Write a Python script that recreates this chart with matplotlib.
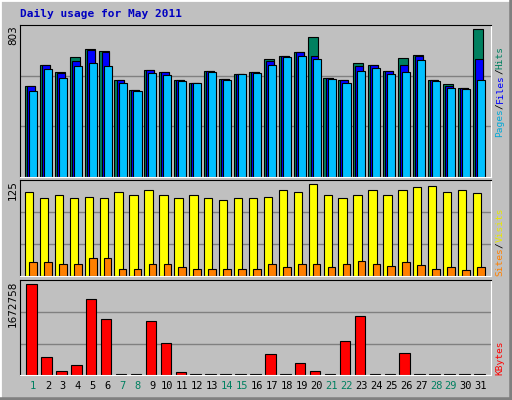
import matplotlib
matplotlib.use("Agg")
import matplotlib.pyplot as plt
import numpy as np

days = list(range(1, 32))
weekend = [1, 7, 8, 14, 15, 21, 22, 28, 29]

hits = [494, 609, 570, 652, 696, 685, 527, 472, 581, 570, 527, 510, 576, 532, 559, 570,
        641, 658, 679, 761, 538, 527, 619, 609, 576, 647, 663, 527, 505, 483, 803]
files = [494, 609, 565, 630, 690, 679, 527, 472, 581, 570, 527, 510, 576, 532, 559, 570,
         630, 658, 679, 658, 538, 527, 603, 609, 576, 609, 658, 527, 494, 483, 641]
pages = [467, 587, 538, 603, 619, 603, 510, 467, 565, 554, 521, 510, 570, 527, 559, 565,
         609, 652, 658, 641, 532, 510, 576, 592, 559, 570, 636, 521, 483, 478, 527]
sites = [114, 106, 111, 107, 108, 107, 115, 110, 118, 110, 107, 110, 107, 104, 107, 106,
         108, 118, 114, 125, 110, 106, 110, 118, 111, 117, 122, 123, 115, 117, 113]
visits = [19, 19, 16, 16, 25, 24, 10, 10, 16, 16, 12, 9, 10, 9, 9, 10,
          17, 12, 16, 16, 12, 17, 21, 16, 13, 19, 15, 9, 12, 8, 12]
kbytes = [1672758, 331000, 73500, 184000, 1397000, 1029000, 25000, 25000, 993000, 588000,
          55000, 25000, 25000, 25000, 25000, 25000, 386000, 25000, 221000, 73500,
          25000, 625000, 1085000, 25000, 25000, 404000, 25000, 25000, 25000, 25000, 25000]

W, H = 512, 400
BG = "#C0C0C0"
fig = plt.figure(figsize=(W / 100, H / 100), dpi=100, facecolor=BG)

def fx(x):
    return x / W

def fy(y):
    return 1 - y / H

def panel(top, bottom, ymax):
    ax = fig.add_axes([fx(20), fy(bottom), fx(491 - 20), (bottom - top) / H])
    ax.set_facecolor(BG)
    ax.set_xlim(0.13, 31.68)
    ax.set_ylim(0, ymax)
    for y in (ymax / 3, 2 * ymax / 3):
        ax.axhline(y, color="#808080", lw=1, zorder=0)
    ax.set_xticks([])
    ax.set_yticks([])
    for s in ("left", "top"):
        ax.spines[s].set_color("black")
    for s in ("right", "bottom"):
        ax.spines[s].set_color("white")
    return ax

d = np.array(days)
mono = "DejaVu Sans Mono"

# top: hits / files / pages
ax1 = panel(25, 176.7, 826)
ax1.bar(d - 0.21, hits, width=0.67, color="#008060", edgecolor="black", lw=0.8)
ax1.bar(d - 0.14, files, width=0.53, color="#0000FF", edgecolor="black", lw=0.8)
ax1.bar(d, pages, width=0.54, color="#00C0FF", edgecolor="black", lw=0.8)

# middle: sites / visits
ax2 = panel(180, 276, 131)
ax2.bar(d - 0.26, sites, width=0.56, color="#FFFF00", edgecolor="black", lw=0.8)
ax2.bar(d, visits, width=0.51, color="#FF8000", edgecolor="black", lw=0.8)

# bottom: kbytes
ax3 = panel(280.3, 375.3, 1746300)
ax3.bar(d - 0.1, kbytes, width=0.7, color="#FF0000", edgecolor="black", lw=0.8)
ax3.set_xticks(days)
ax3.set_xticklabels([str(x) for x in days], family=mono, fontsize=7.5)
ax3.tick_params(axis="x", length=0, pad=4)
for lab, day in zip(ax3.get_xticklabels(), days):
    lab.set_color("#008060" if day in weekend else "black")

# max labels on the left
for txt, ytop in (("803", 25), ("125", 180), ("1672758", 280.3)):
    fig.text(fx(13), fy(ytop), txt, rotation=90, ha="center", va="top", fontsize=7.5)

# legends on the right, stacked bottom to top (monospace, so fixed step per char)
SIDE_FS = 6.8
STEP = SIDE_FS * 100 / 72 * 0.602

def side_label(parts, ybottom):
    pos = 0
    for txt, col in parts:
        n = len(txt)
        ymid = ybottom - (pos + n / 2) * STEP
        fig.text(fx(500), fy(ymid), txt, rotation=90, ha="center", va="center",
                 color=col, family=mono, fontsize=SIDE_FS)
        pos += n

side_label([("Pages", "#00A8D8"), ("/", "black"), ("Files", "#0000FF"),
            ("/", "black"), ("Hits", "#008060")], 137)
side_label([("Sites", "#FF8000"), ("/", "black"), ("Visits", "#E8E800")], 276)
side_label([("KBytes", "#FF0000")], 375)

fig.text(fx(20), fy(14), "Daily usage for May 2011", color="#0000C0", family=mono,
         fontsize=8, fontweight="bold", va="center")

# bevelled frame
fig.add_artist(plt.Line2D([0, 0], [0, 1], color="white", lw=2, transform=fig.transFigure))
fig.add_artist(plt.Line2D([0, 1], [1, 1], color="white", lw=2, transform=fig.transFigure))
fig.add_artist(plt.Line2D([1, 1], [0, 1], color="#808080", lw=4, transform=fig.transFigure))
fig.add_artist(plt.Line2D([0, 1], [0, 0], color="#808080", lw=4, transform=fig.transFigure))

fig.savefig("out.png", dpi=100, facecolor=BG)
